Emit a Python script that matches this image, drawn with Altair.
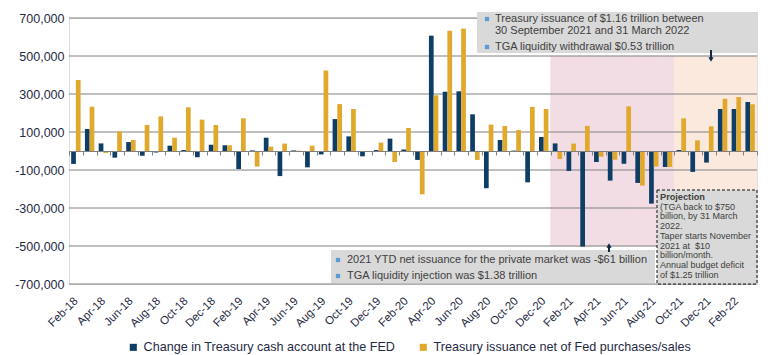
import json
import altair as alt
import pandas as pd

# ---------------- data ----------------
months = [
    "Feb-18", "Mar-18", "Apr-18", "May-18", "Jun-18", "Jul-18", "Aug-18", "Sep-18", "Oct-18", "Nov-18", "Dec-18",
    "Jan-19", "Feb-19", "Mar-19", "Apr-19", "May-19", "Jun-19", "Jul-19", "Aug-19", "Sep-19", "Oct-19", "Nov-19", "Dec-19",
    "Jan-20", "Feb-20", "Mar-20", "Apr-20", "May-20", "Jun-20", "Jul-20", "Aug-20", "Sep-20", "Oct-20", "Nov-20", "Dec-20",
    "Jan-21", "Feb-21", "Mar-21", "Apr-21", "May-21", "Jun-21", "Jul-21", "Aug-21", "Sep-21", "Oct-21", "Nov-21", "Dec-21",
    "Jan-22", "Feb-22", "Mar-22",
]
tga_change = [
    -68000, 116000, 40000, -35000, 47000, -25000, -8000, 28000, 5000, -33000, 33000,
    30000, -95000, 3000, 70000, -132000, 3000, -86000, -18000, 168000, 77000, -28000, 5000,
    65000, 8000, -47000, 607000, 312000, 314000, 193000, -196000, 58000, 2000, -165000, 74000,
    40000, -105000, -503000, -58000, -156000, -67000, -168000, -277000, -84000, 5000, -110000, -61000,
    221000, 221000, 258000,
]
issuance = [
    374000, 233000, -10000, 103000, 58000, 137000, 182000, 70000, 230000, 165000, 137000,
    30000, 172000, -82000, 23000, 39000, 2000, 28000, 424000, 247000, 221000, -3000, 44000,
    -58000, 121000, -228000, 293000, 633000, 644000, -47000, 139000, 132000, 110000, 232000, 221000,
    -42000, 39000, 132000, -30000, -46000, 235000, -182000, -82000, -84000, 172000, 56000, 130000,
    275000, 284000, 246000,
]
series_names = [
    "Change in Treasury cash account at the FED",
    "Treasury issuance net of Fed purchases/sales",
]
series_colors = ["#0e3d66", "#e0a92c"]
y_ticks = [-700000, -500000, -300000, -100000, 100000, 300000, 500000, 700000]
label_months = months[::2]
pink_months = months[35:44]    # Jan-21 .. Sep-21
peach_months = months[44:]     # Oct-21 .. Mar-22
shade_low, shade_high = -500000, 500000

top_lines = ["Treasury issuance of $1.16 trillion between", "30 September 2021 and 31 March 2022",
             "TGA liquidity withdrawal $0.53 trillion"]
bottom_lines = ["2021 YTD net issuance for the private market was -$61 billion",
                "TGA liquidity injection was $1.38 trillion"]
proj_title = "Projection"
proj_lines = ["(TGA back to $750", "billion, by 31 March", "2022.", "Taper starts November",
              "2021 at \u00a0$10", "billion/month.", "Annual budget deficit", "of $1.25 trillion"]

# ---------------- styling ----------------
FONT = "Liberation Sans"
W, H = 688, 266
GRID = "#808080"
TXT = "#1f2a44"
BOXTXT = "#404040"
BOXFILL = "#d9d9d9"
BULLET = "#5b9bd5"
NAVY = "#10284a"

bars_df = pd.DataFrame({
    "month": months * 2,
    "series": [series_names[0]] * len(months) + [series_names[1]] * len(months),
    "value": tga_change + issuance,
})

label_expr = "indexof(" + json.dumps(label_months) + ", datum.value) >= 0 ? datum.value : ''"
x_scale = alt.Scale(domain=months, paddingInner=0, paddingOuter=0)
x_axis = alt.Axis(
    title=None, orient="bottom", offset=-H / 2, domainColor=GRID, domainWidth=1,
    tickColor=GRID, tickSize=4, tickBand="extent", labelAngle=315, labelAlign="right",
    labelBaseline="middle", labelPadding=144, labelExpr=label_expr, labelFont=FONT,
    labelFontSize=11.5, labelColor=TXT, zindex=1, labelOverlap=False,
)
y_scale = alt.Scale(domain=[-700000, 700000], nice=False, zero=False)
y_axis = alt.Axis(
    title=None, values=y_ticks, grid=False, domain=False, ticks=False, labelPadding=5,
    labelFont=FONT, labelFontSize=12.5, labelColor=TXT,
    labelExpr="(datum.value < 0 ? '-' : '') + format(abs(datum.value), ',')",
)


def shade(month_list, color):
    df = pd.DataFrame({"month": month_list, "lo": shade_low, "hi": shade_high})
    return alt.Chart(df).mark_rect(color=color, stroke=color, strokeWidth=0.6).encode(
        x=alt.X("month:N", scale=x_scale, axis=x_axis, sort=months),
        y=alt.Y("lo:Q", scale=y_scale, axis=y_axis),
        y2="hi:Q",
    )


pink = shade(pink_months, "#f2dde4")
peach = shade(peach_months, "#fbe9de")

grid = alt.Chart(pd.DataFrame({"v": y_ticks})).mark_rule(color=GRID, strokeWidth=1).encode(
    y=alt.Y("v:Q", scale=y_scale, axis=y_axis)
)

bars = alt.Chart(bars_df).mark_bar().encode(
    x=alt.X("month:N", scale=x_scale, axis=x_axis, sort=months),
    xOffset=alt.XOffset("series:N", sort=series_names,
                        scale=alt.Scale(domain=series_names, paddingInner=0, paddingOuter=0.46)),
    y=alt.Y("value:Q", scale=y_scale, axis=y_axis),
    color=alt.Color("series:N", scale=alt.Scale(domain=series_names, range=series_colors),
                    legend=alt.Legend(orient="none", legendX=58, legendY=323, direction="horizontal",
                                      title=None, symbolType="square", symbolSize=50,
                                      symbolStrokeWidth=0, labelFont=FONT, labelFontSize=12.6,
                                      labelColor=TXT, columnPadding=21, labelOffset=4,
                                      labelLimit=500)),
)

one = pd.DataFrame({"k": [0]})


def box(x1, x2, y1, y2, dashed=False):
    kw = dict(fill=BOXFILL)
    if dashed:
        kw.update(stroke="#111111", strokeWidth=1, strokeDash=[3, 2])
    return alt.Chart(one).mark_rect(**kw).encode(
        x=alt.value(x1), x2=alt.value(x2), y=alt.value(y1), y2=alt.value(y2))


def text(s, x, y, size=11, bold=False):
    kw = dict(align="left", baseline="middle", font=FONT, fontSize=size, color=BOXTXT, text=s)
    if bold:
        kw["fontWeight"] = "bold"
    return alt.Chart(one).mark_text(**kw).encode(x=alt.value(x), y=alt.value(y))


def bullet(x, y):
    return alt.Chart(one).mark_point(shape="square", filled=True, size=18, color=BULLET, opacity=1).encode(
        x=alt.value(x), y=alt.value(y))


def arrow(x, y_tail, y_tip, down=True):
    r = alt.Chart(one).mark_rule(color=NAVY, strokeWidth=2).encode(
        x=alt.value(x), y=alt.value(y_tail), y2=alt.value(y_tip + (-3 if down else 3)))
    head = alt.Chart(one).mark_point(shape="triangle-down" if down else "triangle-up", filled=True,
                                     size=28, color=NAVY, opacity=1).encode(
        x=alt.value(x), y=alt.value(y_tip + (-2.5 if down else 2.5)))
    return [r, head]


annot = [
    box(408, 689, -6, 35),
    bullet(418, 1), text(top_lines[0], 426, 1), text(top_lines[1], 426, 13),
    bullet(418, 29), text(top_lines[2], 426, 29),
    box(262, 586, 232, 265),
    bullet(269, 242), text(bottom_lines[0], 278, 242),
    bullet(269, 258), text(bottom_lines[1], 278, 258),
    box(588, 688, 172, 266, dashed=True),
    text(proj_title, 591, 179, size=9.2, bold=True),
]
for i, line in enumerate(proj_lines):
    annot.append(text(line, 591, 179 + (i + 1) * 9.7, size=9))
annot += arrow(642, 32, 44, down=True)
annot += arrow(540, 234, 225, down=False)

chart = alt.layer(pink, peach, grid, bars, *annot).properties(
    width=W, height=H,
    padding={"left": 69, "top": 18, "right": 13, "bottom": 71},
    autosize=alt.AutoSizeParams(type="none"),
).configure_view(strokeWidth=0).configure(background="white")

chart.save("out.html", embed_options={"renderer": "svg", "actions": False})
